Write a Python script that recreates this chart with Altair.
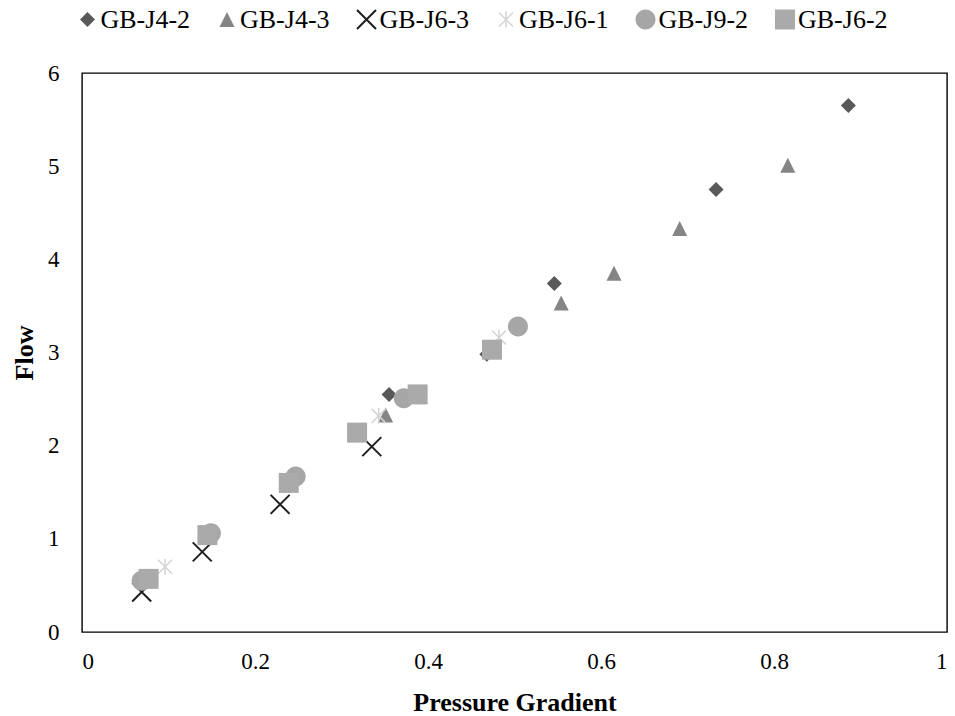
import altair as alt
import pandas as pd

# Measured flow against pressure gradient for six samples
series_names = ["GB-J4-2", "GB-J4-3", "GB-J6-3", "GB-J6-1", "GB-J9-2", "GB-J6-2"]

j4_2_x = [0.066, 0.355, 0.468, 0.546, 0.733, 0.886]
j4_2_y = [0.55, 2.55, 2.98, 3.74, 4.75, 5.65]

j4_3_x = [0.351, 0.554, 0.615, 0.691, 0.816]
j4_3_y = [2.33, 3.53, 3.85, 4.33, 5.01]

j6_3_x = [0.069, 0.139, 0.229, 0.335]
j6_3_y = [0.43, 0.86, 1.37, 1.99]

j6_1_x = [0.096, 0.343, 0.482]
j6_1_y = [0.70, 2.32, 3.16]

j9_2_x = [0.069, 0.149, 0.247, 0.372, 0.504]
j9_2_y = [0.55, 1.06, 1.67, 2.51, 3.28]

j6_2_x = [0.077, 0.145, 0.239, 0.318, 0.388, 0.474]
j6_2_y = [0.57, 1.04, 1.60, 2.14, 2.55, 3.03]

xs = [j4_2_x, j4_3_x, j6_3_x, j6_1_x, j9_2_x, j6_2_x]
ys = [j4_2_y, j4_3_y, j6_3_y, j6_1_y, j9_2_y, j6_2_y]

rows = []
for name, sx, sy in zip(series_names, xs, ys):
    for a, b in zip(sx, sy):
        rows.append({"series": name, "gradient": a, "flow": b})
df = pd.DataFrame(rows)

# Marker outlines in unit coordinates (1 unit = half the symbol box);
# relative marker sizes are built into the paths themselves.
DIAMOND = "M-0.75,0L0,-0.75L0.75,0L0,0.75Z"
TRIANGLE = "M0,-0.75L0.75,0.75L-0.75,0.75Z"
XMARK = (
    "M-0.88,-1.02L1.02,0.88L0.88,1.02L-1.02,-0.88Z"
    "M0.88,-1.02L1.02,-0.88L-0.88,1.02L-1.02,0.88Z"
)
STAR = (
    "M-0.075,-0.8L0.075,-0.8L0.075,0.8L-0.075,0.8Z"
    "M-0.647,-0.753L0.753,0.647L0.647,0.753L-0.753,-0.647Z"
    "M0.647,-0.753L0.753,-0.647L-0.647,0.753L-0.753,0.647Z"
)
CIRCLE = "M-1,0A1,1 0 1,1 1,0A1,1 0 1,1 -1,0Z"
SQUARE = "M-1,-1L1,-1L1,1L-1,1Z"

shapes = [DIAMOND, TRIANGLE, XMARK, STAR, CIRCLE, SQUARE]
colors = ["#595959", "#858585", "#1e1e1e", "#d4d4d4", "#a6a6a6", "#aaaaaa"]

FONT = "Liberation Serif"

legend = alt.Legend(
    orient="none",
    direction="horizontal",
    legendX=-7.5,
    legendY=-66.5,
    labelFont=FONT,
    labelFontSize=26,
    labelColor="black",
    symbolSize=400,
    symbolStrokeWidth=0,
    labelOffset=0,
    columnPadding=23.5,
    padding=0,
)

chart = (
    alt.Chart(df)
    .mark_point(size=400, filled=True, opacity=1, strokeWidth=0)
    .encode(
        x=alt.X(
            "gradient:Q",
            scale=alt.Scale(domain=[0, 1], nice=False, zero=False),
            axis=alt.Axis(
                title="Pressure Gradient",
                values=[0, 0.2, 0.4, 0.6, 0.8, 1],
                labelExpr="datum.value == 0 ? '0' : datum.value == 1 ? '1' : format(datum.value, '.1f')",
                grid=False,
                ticks=False,
                domain=False,
                labelPadding=18,
                labelFont=FONT,
                labelFontSize=23,
                labelColor="black",
                titleFont=FONT,
                titleFontSize=26,
                titleFontWeight="bold",
                titleColor="black",
                titleBaseline="alphabetic",
                titleY=78,
            ),
        ),
        y=alt.Y(
            "flow:Q",
            scale=alt.Scale(domain=[0, 6], nice=False, zero=False),
            axis=alt.Axis(
                title="Flow",
                values=[0, 1, 2, 3, 4, 5, 6],
                grid=False,
                ticks=False,
                domain=False,
                labelPadding=23,
                labelFont=FONT,
                labelFontSize=23,
                labelColor="black",
                titleFont=FONT,
                titleFontSize=26,
                titleFontWeight="bold",
                titleColor="black",
                titleBaseline="alphabetic",
                titleAngle=-90,
                titleX=-50,
            ),
        ),
        shape=alt.Shape(
            "series:N",
            title=None,
            scale=alt.Scale(domain=series_names, range=shapes),
            legend=legend,
        ),
        color=alt.Color(
            "series:N",
            title=None,
            scale=alt.Scale(domain=series_names, range=colors),
            legend=legend,
        ),
    )
    .properties(
        width=865,
        height=559,
        autosize=alt.AutoSizeParams(type="none"),
        padding={"left": 82, "top": 73, "right": 8, "bottom": 84},
        background="white",
    )
    .configure_view(stroke="black", strokeWidth=1.4)
)

chart.save("out.html", embed_options={"renderer": "svg", "actions": False})
